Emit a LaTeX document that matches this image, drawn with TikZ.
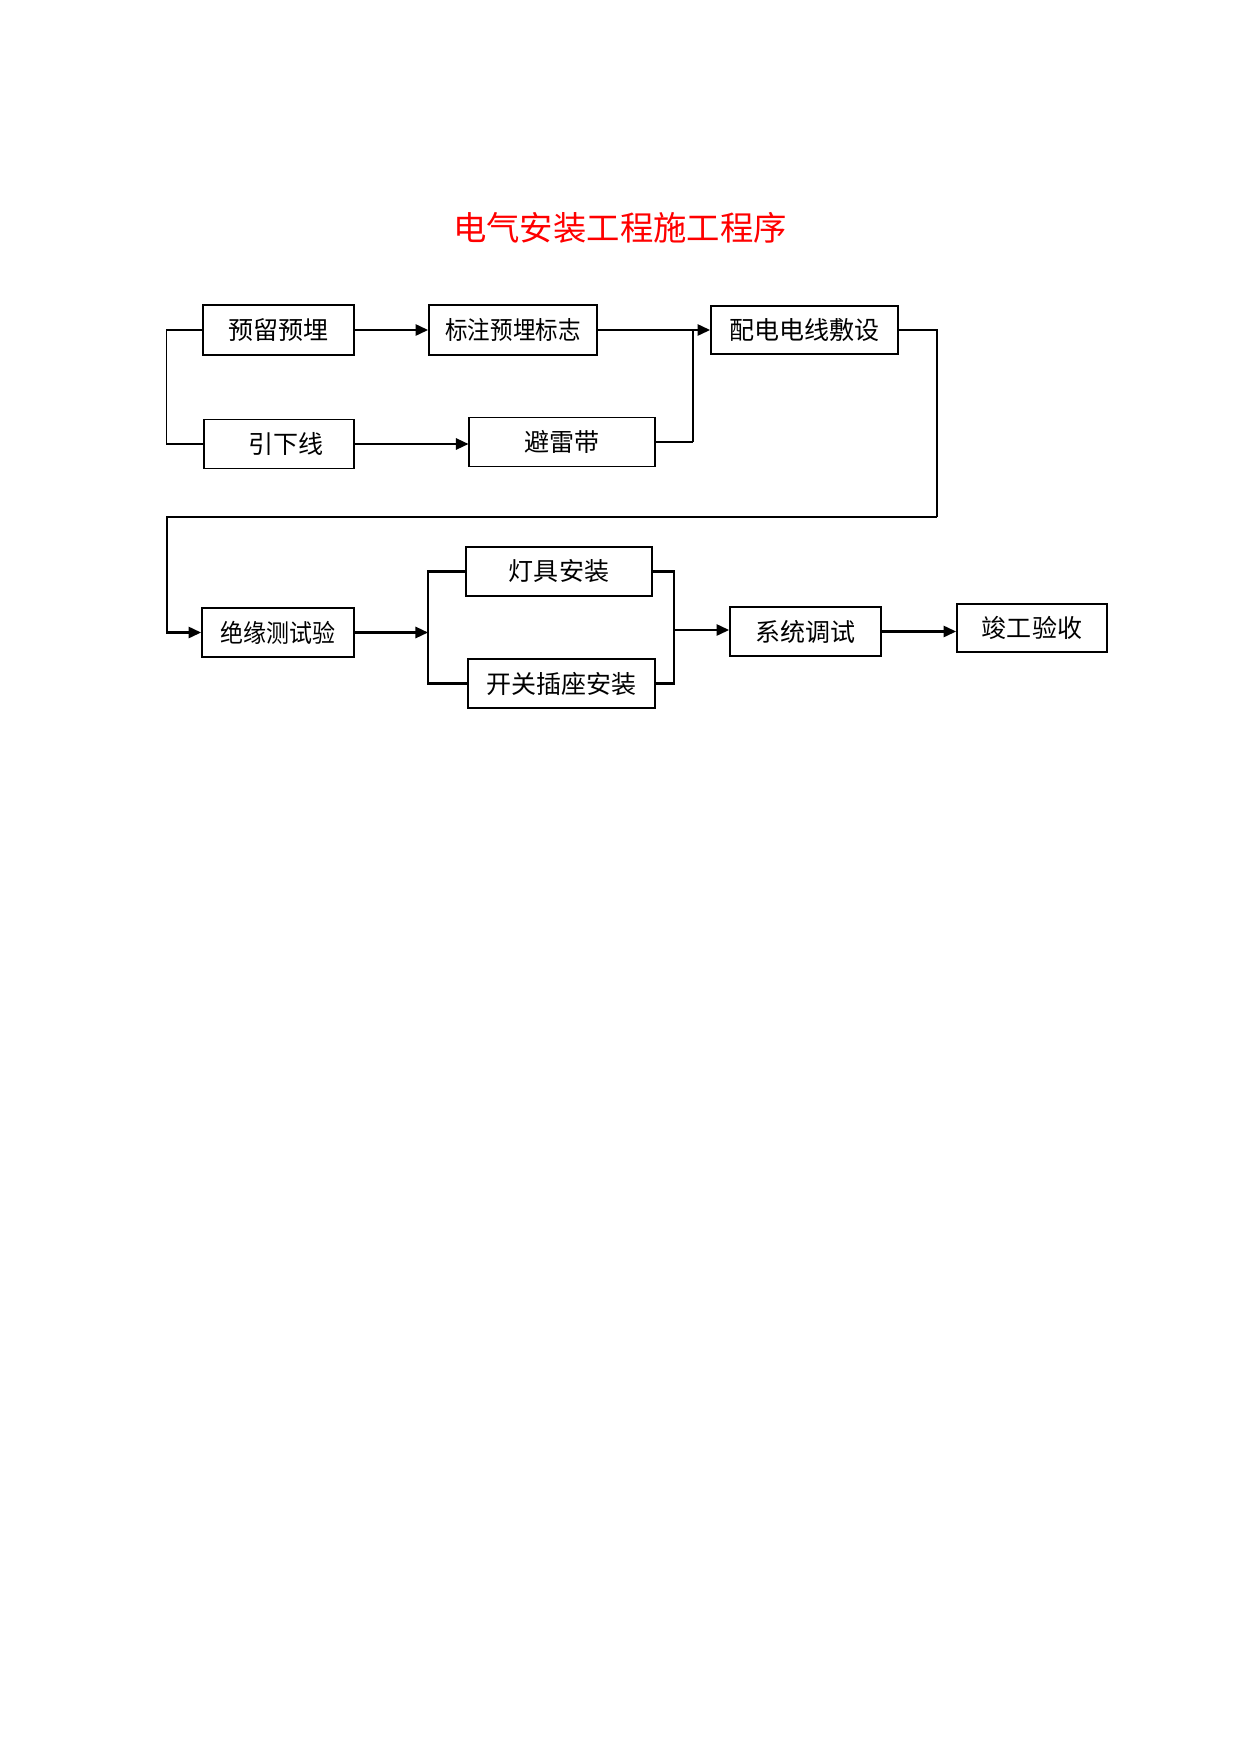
\documentclass[tikz,border=0pt]{standalone}
\usepackage{fontspec}
\usepackage{graphicx}
\newfontfamily\cjk{Noto Sans CJK SC}
\usetikzlibrary{arrows.meta}
\begin{document}
\begin{tikzpicture}[x=0.4797pt,y=-0.4797pt,
  box/.style={draw, line width=0.9pt, inner sep=0pt, font=\cjk\fontsize{12pt}{14pt}\selectfont},
  thinbox/.style={box, line width=0.5pt},
  sz/.style 2 args={minimum width=#1*0.4797pt, minimum height=#2*0.4797pt},
  wire/.style={line width=1pt},
  thinwire/.style={line width=0.5pt},
  arr/.style={wire, -{Triangle[length=6pt,width=5.4pt]}},
  titlestyle/.style={font=\cjk\fontsize{16pt}{19pt}\selectfont, text=red, inner sep=0pt}
]
\useasboundingbox (0,0) rectangle (1241,1754);

\node[titlestyle] (T) at (620,228) {电气安装工程施工程序};

\node[box, sz={151}{50}] (A) at (278.5,330) {预留预埋};
\node[box, sz={168}{50}] (B) at (513,330) {\scalebox{0.9}[1]{标注预埋标志}};
\node[box, sz={187}{48}] (C) at (804.5,330) {配电电线敷设};
\node[box, sz={150}{49}] (D) at (279,444) {\hspace{7pt}引下线};
\node[thinbox, sz={186}{49}] (E) at (562,442) {避雷带};

\node[box, sz={152}{49}] (F) at (278,632.5) {\scalebox{0.92}[1]{绝缘测试验}};
\node[thinbox, sz={186}{49}] (G) at (559,571.5) {灯具安装};
\node[box, sz={187}{49}] (H) at (561.5,683.5) {开关插座安装};
\node[box, sz={151}{49}] (I) at (805.5,631.5) {系统调试};
\node[box, sz={150}{48}] (J) at (1032,628) {竣工验收};

\coordinate (jn) at (693,330);
\coordinate (c1) at (937,517);
\coordinate (c2) at (167,517);
\coordinate (sL) at (428,632.5);
\coordinate (sR) at (674,630);

% top row
\draw[arr] (A.east) -- (A.east -| B.west);
\draw[arr] (B.east) -- (B.east -| C.west);
\draw[thinwire] (A.west) -- ++(-36,0) |- (D.west);
\draw[arr] (D.east) -- (D.east -| E.west);
\draw[thinwire] (E.east) -- (E.east -| jn);
\draw[wire] (E.east -| jn) -- (jn);

% loop down
\draw[thinwire] (C.east) -| (c1);
\draw[arr] (c1) -- (c2) |- (F.west);

% parallel branch
\draw[arr] (F.east) -- (sL);
\draw[wire] (G.west) -- (G.west -| sL) -- (H.west -| sL) -- (H.west);
\draw[wire] (G.east) -- (G.east -| sR) -- (H.east -| sR) -- (H.east);
\draw[arr] (sR) -- (sR -| I.west);
\draw[arr] (I.east) -- (I.east -| J.west);
\end{tikzpicture}
\end{document}
